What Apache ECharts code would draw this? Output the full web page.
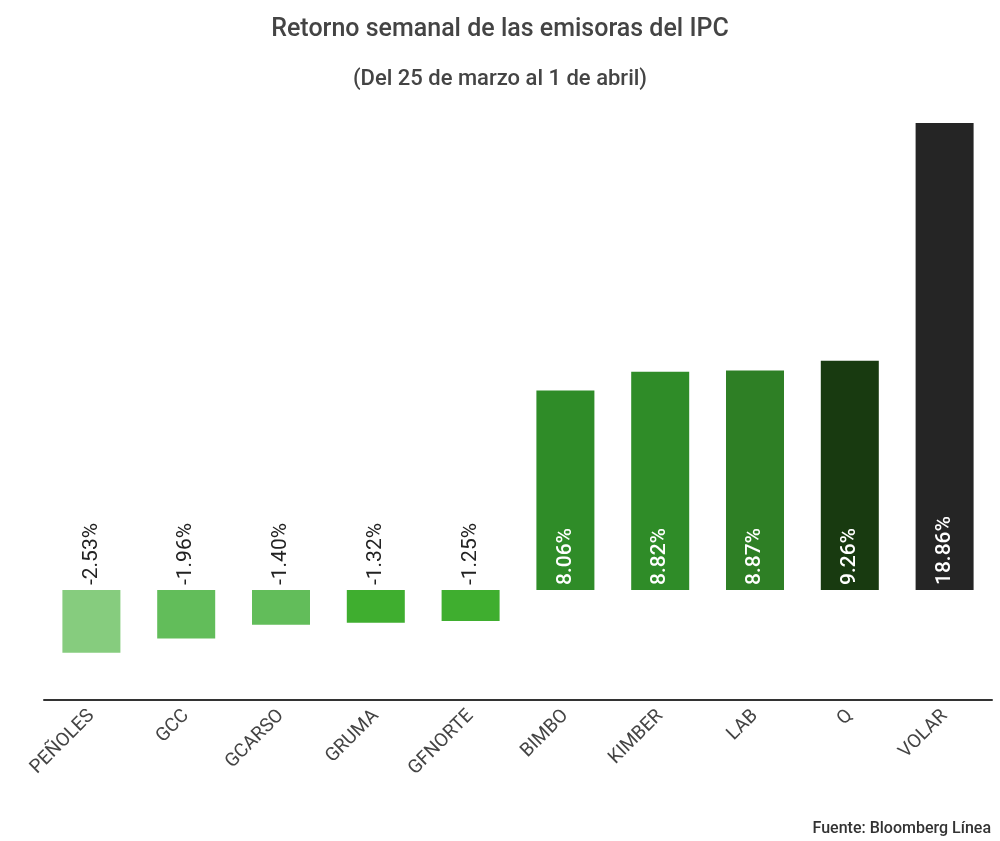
<!DOCTYPE html>
<html>
<head>
<meta charset="utf-8">
<script src="https://cdn.jsdelivr.net/npm/echarts@6/dist/echarts.min.js"></script>
<style>
    html, body { margin: 0; padding: 0; background: #fff; }
    #chart { width: 1000px; height: 841px; }
</style>
</head>
<body>
<div id="chart"></div>
<script>
const categories = ["PEÑOLES", "GCC", "GCARSO", "GRUMA", "GFNORTE", "BIMBO", "KIMBER", "LAB", "Q", "VOLAR"];
const returns = [-2.53, -1.96, -1.40, -1.32, -1.25, 8.06, 8.82, 8.87, 9.26, 18.86];
const barColors = ["#86cc7e", "#62bd5a", "#62bd5a", "#3fae2f", "#3fae2f", "#2f8c28", "#2f8c28", "#2e7f25", "#183a10", "#252525"];

/* ===========================
   Build data items
=========================== */

const barData = returns.map((v, i) => ({
    value: v,
    itemStyle: { color: barColors[i] },
    label: v < 0
        ? { position: "top", color: "#222", fontWeight: "normal" }
        : { position: "insideBottom", color: "#fff", fontWeight: 500 }
}));

const chart = echarts.init(document.getElementById("chart"));

chart.setOption({

    animation: false,

    textStyle: {
        fontFamily: "Roboto"
    },

    title: [{
        text: "Retorno semanal de las emisoras del IPC",
        left: "center",
        top: 12,
        textStyle: {
            fontSize: 25,
            fontWeight: 500,
            color: "#444",
            fontFamily: "Roboto"
        }
    }, {
        text: "(Del 25 de marzo al 1 de abril)",
        left: "center",
        top: 63,
        textStyle: {
            fontSize: 22,
            fontWeight: 500,
            color: "#444",
            fontFamily: "Roboto"
        }
    }, {
        text: "Fuente: Bloomberg Línea",
        right: 4,
        top: 816,
        textStyle: {
            fontSize: 16,
            fontWeight: 500,
            color: "#333",
            fontFamily: "Roboto"
        }
    }],

    grid: {
        left: 44,
        right: 8,
        top: 123,
        bottom: 141
    },

    xAxis: {
        type: "category",
        data: categories,
        axisLine: {
            onZero: false,
            lineStyle: { color: "#333", width: 2 }
        },
        axisTick: { show: false },
        axisLabel: {
            rotate: 45,
            interval: 0,
            margin: 13,
            fontSize: 19,
            color: "#444"
        }
    },

    yAxis: {
        type: "value",
        min: -4.44,
        max: 18.86,
        show: false,
        splitLine: { show: false }
    },

    series: [{
        type: "bar",
        barWidth: 58,
        data: barData,
        label: {
            show: true,
            rotate: 90,
            align: "left",
            verticalAlign: "middle",
            distance: 5,
            fontSize: 21,
            formatter: p => p.value.toFixed(2) + "%"
        }
    }]

});
</script>
</body>
</html>
